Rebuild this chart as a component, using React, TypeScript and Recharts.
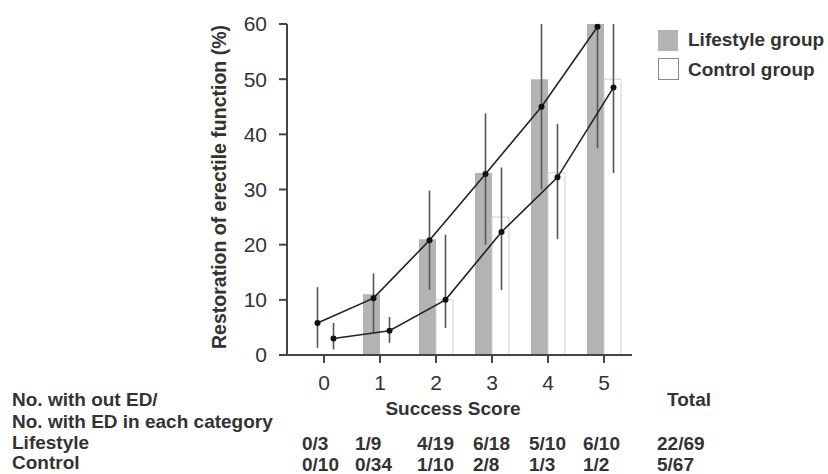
import { ComposedChart, Bar, Line, XAxis, YAxis, ErrorBar } from 'recharts'

// success score categories
const categories = ['0', '1', '2', '3', '4', '5']

// observed restoration rate (%) - bars
const lifestylePct = [0, 11, 21, 33, 50, 60]
const controlPct = [0, 0, 10, 25, 33, 50]

// model estimates (%) - lines with CI
const lifestyleEst = [5.8, 10.3, 20.8, 32.8, 45, 59.5]
const lifestyleLow = [1.3, 4, 11.8, 20, 30, 37.5]
const lifestyleHigh = [12.3, 14.8, 29.8, 43.8, 60, 60]
const controlEst = [3.0, 4.4, 10, 22.3, 32.2, 48.5]
const controlLow = [1, 2.2, 4.9, 11.8, 21, 33]
const controlHigh = [5.8, 6.9, 21.8, 34, 41.9, 60]

const yTicks = [0, 10, 20, 30, 40, 50, 60]

// table under the chart
const lifestyleCounts = ['0/3', '1/9', '4/19', '6/18', '5/10', '6/10']
const controlCounts = ['0/10', '0/34', '1/10', '2/8', '1/3', '1/2']
const lifestyleTotal = '22/69'
const controlTotal = '5/67'

const data = categories.map((cat, i) => ({
  cat,
  lifestyle: lifestylePct[i],
  control: controlPct[i],
  lifeEst: lifestyleEst[i],
  lifeErr: [lifestyleEst[i] - lifestyleLow[i], lifestyleHigh[i] - lifestyleEst[i]],
  ctrlEst: controlEst[i],
  ctrlErr: [controlEst[i] - controlLow[i], controlHigh[i] - controlEst[i]],
}))

const FONT = '"Liberation Sans", Arial, sans-serif'
const NARROW = '"Liberation Sans Narrow", "Arial Narrow", "Liberation Sans", sans-serif'
const INK = '#333'
const AXIS = '#444'
const colX = [302, 355, 417, 473, 529, 583]

export default function App() {
  return (
    <div style={{ position: 'absolute', left: 0, top: 0, width: 828, height: 474, background: '#fff', fontFamily: FONT }}>
      <ComposedChart
        width={828}
        height={474}
        data={data}
        margin={{ top: 24, right: 196, bottom: 89, left: 227 }}
        barGap={0}
        style={{ position: 'absolute', left: 0, top: 0 }}
      >
        <XAxis
          dataKey="cat"
          height={30}
          padding={{ left: 9, right: 0 }}
          tickSize={8}
          tickMargin={12}
          stroke={AXIS}
          strokeWidth={2}
          tick={{ fill: INK, fontSize: 21, fontFamily: NARROW }}
        />
        <XAxis xAxisId="ls" dataKey="cat" hide padding={{ left: 2.5, right: 6.5 }} />
        <XAxis xAxisId="ct" dataKey="cat" hide padding={{ left: 18.5, right: -9.5 }} />
        <YAxis
          width={60}
          domain={[0, 60]}
          ticks={yTicks}
          tickSize={8}
          tickMargin={12}
          stroke={AXIS}
          strokeWidth={2}
          tick={{ fill: INK, fontSize: 21, fontFamily: NARROW }}
        />
        <Bar dataKey="lifestyle" barSize={17} fill="#b3b3b3" isAnimationActive={false} />
        <Bar dataKey="control" barSize={17} fill="#fff" stroke="#cfcfcf" strokeWidth={1} isAnimationActive={false} />
        <Line
          xAxisId="ls"
          dataKey="lifeEst"
          stroke="#222"
          strokeWidth={1.6}
          dot={{ r: 3, fill: '#111', stroke: 'none' }}
          isAnimationActive={false}
        >
          <ErrorBar dataKey="lifeErr" direction="y" width={0} stroke="#555" strokeWidth={1.6} />
        </Line>
        <Line
          xAxisId="ct"
          dataKey="ctrlEst"
          stroke="#222"
          strokeWidth={1.6}
          dot={{ r: 3, fill: '#111', stroke: 'none' }}
          isAnimationActive={false}
        >
          <ErrorBar dataKey="ctrlErr" direction="y" width={0} stroke="#555" strokeWidth={1.6} />
        </Line>
      </ComposedChart>

      <svg width={828} height={474} style={{ position: 'absolute', left: 0, top: 0, pointerEvents: 'none' }}>
        <g fontFamily={FONT} fontWeight="bold" fill={INK}>
          {/* axis titles */}
          <text transform="rotate(-90)" x={-187} y={226} textAnchor="middle" fontSize={19.5}>
            Restoration of erectile function (%)
          </text>
          <text x={453} y={415} textAnchor="middle" fontSize={19}>Success Score</text>

          {/* legend */}
          <rect x={658} y={30} width={20} height={21} fill="#b3b3b3" />
          <text x={688} y={46} fontSize={19}>Lifestyle group</text>
          <rect x={658.5} y={58.5} width={20} height={21} fill="#fff" stroke="#888" strokeWidth={1} />
          <text x={688} y={76} fontSize={19}>Control group</text>

          {/* counts table */}
          <g fontSize={19}>
            <text x={12} y={406}>No. with out ED/</text>
            <text x={12} y={428}>No. with ED in each category</text>
            <text x={12} y={449}>Lifestyle</text>
            <text x={12} y={469}>Control</text>
            <text x={667} y={406}>Total</text>
            {lifestyleCounts.map((t, i) => (
              <text key={'l' + i} x={colX[i]} y={450}>{t}</text>
            ))}
            {controlCounts.map((t, i) => (
              <text key={'c' + i} x={colX[i]} y={471}>{t}</text>
            ))}
            <text x={657} y={450}>{lifestyleTotal}</text>
            <text x={657} y={471}>{controlTotal}</text>
          </g>
        </g>
      </svg>
    </div>
  )
}
